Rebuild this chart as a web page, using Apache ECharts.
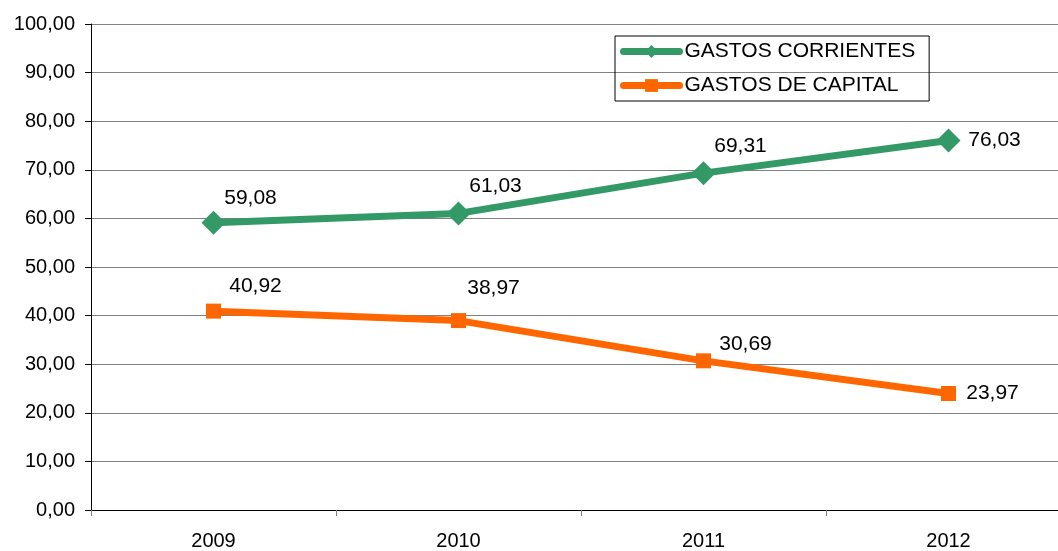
<!DOCTYPE html>
<html><head><meta charset="utf-8">
<script src="https://cdn.jsdelivr.net/npm/echarts@6/dist/echarts.min.js"></script>
<style>html,body{margin:0;padding:0;background:#fff}#c{width:1058px;height:551px}</style>
</head><body><div id="c"></div>
<script>
const categories = ['2009','2010','2011','2012'];
const corrientes = [59.08, 61.03, 69.31, 76.03];
const capital = [40.92, 38.97, 30.69, 23.97];
const seriesNames = ['GASTOS CORRIENTES','GASTOS DE CAPITAL'];

const greenOffsets = [[37,-25],[37,-27],[37,-27],[46,0]];
const orangeOffsets = [[42,-25],[35,-32],[42,-17],[44,0]];
const fmt = v => v.toFixed(2).replace('.', ',');
function mk(vals, offs){
  return vals.map((v,i)=>({value:v, label:{offset:offs[i]}}));
}
const chart = echarts.init(document.getElementById('c'), null, {renderer:'canvas'});
const font = 'Liberation Sans, Arial, sans-serif';
chart.setOption({
  animation:false,
  textStyle:{fontFamily:font},
  grid:{left:91, width:980, top:24, bottom:41, containLabel:false, outerBoundsMode:'none'},
  legend:{
    orient:'vertical', left:615, top:36, itemGap:13,
    itemWidth:56, itemHeight:16,
    lineStyle:{width:7, cap:'round'},
    borderColor:'#000', borderWidth:1, padding:[5,14,5,5],
    textStyle:{fontSize:21, color:'#000', fontFamily:font},
    data:seriesNames
  },
  xAxis:{
    type:'category', data:categories, boundaryGap:true,
    axisLine:{lineStyle:{color:'#000', width:1}},
    axisTick:{show:true, length:6, lineStyle:{color:'#808080'}},
    axisLabel:{fontSize:20, color:'#000', margin:21, fontFamily:font}
  },
  yAxis:{
    type:'value', min:0, max:100, interval:10,
    axisLine:{show:true, lineStyle:{color:'#000'}},
    axisTick:{show:true, length:6, lineStyle:{color:'#000'}},
    axisLabel:{fontSize:20, color:'#000', margin:16, formatter:v=>fmt(v), fontFamily:font},
    splitLine:{lineStyle:{color:'#808080', width:1}}
  },
  series:[
    {name:seriesNames[0], type:'line', data:mk(corrientes, greenOffsets),
     symbol:'diamond', symbolSize:24, color:'#339966',
     lineStyle:{width:7, color:'#339966'}, itemStyle:{color:'#339966'},
     label:{show:true, position:'inside', fontSize:21, color:'#000', formatter:p=>fmt(p.value), fontFamily:font}},
    {name:seriesNames[1], type:'line', data:mk(capital, orangeOffsets),
     symbol:'rect', symbolSize:15, color:'#FF6600',
     lineStyle:{width:7, color:'#FF6600'}, itemStyle:{color:'#FF6600'},
     label:{show:true, position:'inside', fontSize:21, color:'#000', formatter:p=>fmt(p.value), fontFamily:font}}
  ]
});
</script></body></html>
